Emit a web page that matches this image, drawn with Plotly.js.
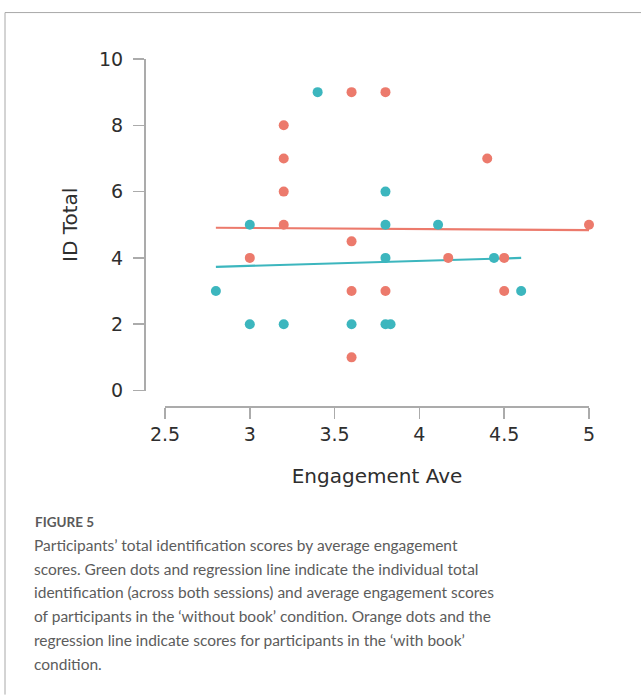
<!DOCTYPE html>
<html>
<head>
<meta charset="utf-8">
<script src="https://cdn.plot.ly/plotly-3.0.1.min.js"></script>
<style>
html, body { margin: 0; padding: 0; background: #fff; }
#chart { width: 641px; height: 695px; }
</style>
</head>
<body>
<div id="chart"></div>
<script>
// ---- data ----
const withoutBookX = [3.4, 3.8, 3.0, 3.8, 4.11, 3.8, 4.44, 2.8, 4.6, 3.0, 3.2, 3.6, 3.8, 3.83];
const withoutBookY = [9, 6, 5, 5, 5, 4, 4, 3, 3, 2, 2, 2, 2, 2];
const withBookX = [3.6, 3.8, 3.2, 3.2, 4.4, 3.2, 3.2, 5.0, 3.6, 3.0, 4.17, 4.5, 3.6, 3.8, 4.5, 3.6];
const withBookY = [9, 9, 8, 7, 7, 6, 5, 5, 4.5, 4, 4, 4, 3, 3, 3, 1];
const withoutBookFitX = [2.8, 4.6];
const withoutBookFitY = [3.73, 4.0];
const withBookFitX = [2.8, 5.0];
const withBookFitY = [4.91, 4.84];
const xTickVals = [2.5, 3, 3.5, 4, 4.5, 5];
const xTickText = ['2.5', '3', '3.5', '4', '4.5', '5'];
const yTickVals = [0, 2, 4, 6, 8, 10];
const yTickText = ['0', '2', '4', '6', '8', '10'];
const xTitle = 'Engagement Ave';
const yTitle = 'ID Total';
const figureLabel = 'FIGURE 5';
const captionLines = [
  'Participants\u2019 total identification scores by average engagement',
  'scores. Green dots and regression line indicate the individual total',
  'identification (across both sessions) and average engagement scores',
  'of participants in the \u2018without book\u2019 condition. Orange dots and the',
  'regression line indicate scores for participants in the \u2018with book\u2019',
  'condition.'
];

// ---- layout geometry (pixels) ----
const W = 641, H = 695;
const mL = 144, mR = 52, mT = 58.5, mB = 289;
const pw = W - mL - mR, ph = H - mT - mB;
const px = x => (x - mL) / pw;
const py = y => (H - mB - y) / ph;

const teal = '#3cb6be';
const coral = '#ec7a6c';
const axisGrey = '#ababab';
const textDark = '#2e2e2e';

const traces = [
  { x: withoutBookFitX, y: withoutBookFitY, mode: 'lines', type: 'scatter',
    line: { color: teal, width: 2.2 }, cliponaxis: false, hoverinfo: 'skip' },
  { x: withBookFitX, y: withBookFitY, mode: 'lines', type: 'scatter',
    line: { color: coral, width: 2.2 }, cliponaxis: false, hoverinfo: 'skip' },
  { x: withoutBookX, y: withoutBookY, mode: 'markers', type: 'scatter',
    marker: { color: teal, size: 10 }, cliponaxis: false, name: 'without book' },
  { x: withBookX, y: withBookY, mode: 'markers', type: 'scatter',
    marker: { color: coral, size: 10 }, cliponaxis: false, name: 'with book' }
];

const annotations = [
  { text: figureLabel, xref: 'paper', yref: 'paper', x: px(33), y: py(522),
    xanchor: 'left', yanchor: 'middle', showarrow: false,
    font: { family: 'Lato, sans-serif', size: 13.5, weight: 'bold', color: '#5a5a5a' } }
];
captionLines.forEach((t, i) => {
  annotations.push({ text: t, xref: 'paper', yref: 'paper', x: px(32), y: py(545 + i * 23.8),
    xanchor: 'left', yanchor: 'middle', showarrow: false, align: 'left',
    font: { family: 'Lato, sans-serif', size: 15.5, color: '#5c5c5c' } });
});

const layout = {
  width: W, height: H,
  margin: { l: mL, r: mR, t: mT, b: mB, pad: 0 },
  paper_bgcolor: '#ffffff', plot_bgcolor: '#ffffff',
  showlegend: false,
  xaxis: {
    range: [2.5, 5], domain: [px(165), 1], anchor: 'free', position: 0,
    tickvals: xTickVals, ticktext: xTickText,
    showline: true, linecolor: axisGrey, linewidth: 1.5,
    ticks: 'outside', ticklen: 11, tickwidth: 1.5, tickcolor: axisGrey,
    showgrid: false, zeroline: false,
    tickfont: { family: 'DejaVu Sans, sans-serif', size: 19, color: textDark },
    title: { text: xTitle, standoff: 24,
      font: { family: 'DejaVu Sans, sans-serif', size: 20, color: textDark } }
  },
  yaxis: {
    range: [0, 10], domain: [py(390.5), 1], anchor: 'free', position: 0,
    tickvals: yTickVals, ticktext: yTickText,
    showline: true, linecolor: axisGrey, linewidth: 1.5,
    ticks: 'outside', ticklen: 11, tickwidth: 1.5, tickcolor: axisGrey,
    ticklabelstandoff: 6,
    showgrid: false, zeroline: false,
    tickfont: { family: 'DejaVu Sans, sans-serif', size: 19, color: textDark },
    title: { text: yTitle, standoff: 14,
      font: { family: 'DejaVu Sans, sans-serif', size: 20, color: textDark } }
  },
  shapes: [
    { type: 'line', xref: 'paper', yref: 'paper', x0: px(5), x1: px(641), y0: py(12), y1: py(12),
      line: { color: '#a8a8a8', width: 1 } },
    { type: 'line', xref: 'paper', yref: 'paper', x0: px(5), x1: px(5), y0: py(12), y1: py(695),
      line: { color: '#a8a8a8', width: 1 } }
  ],
  annotations: annotations
};

Plotly.newPlot('chart', traces, layout, { displayModeBar: false, staticPlot: true });
</script>
</body>
</html>
